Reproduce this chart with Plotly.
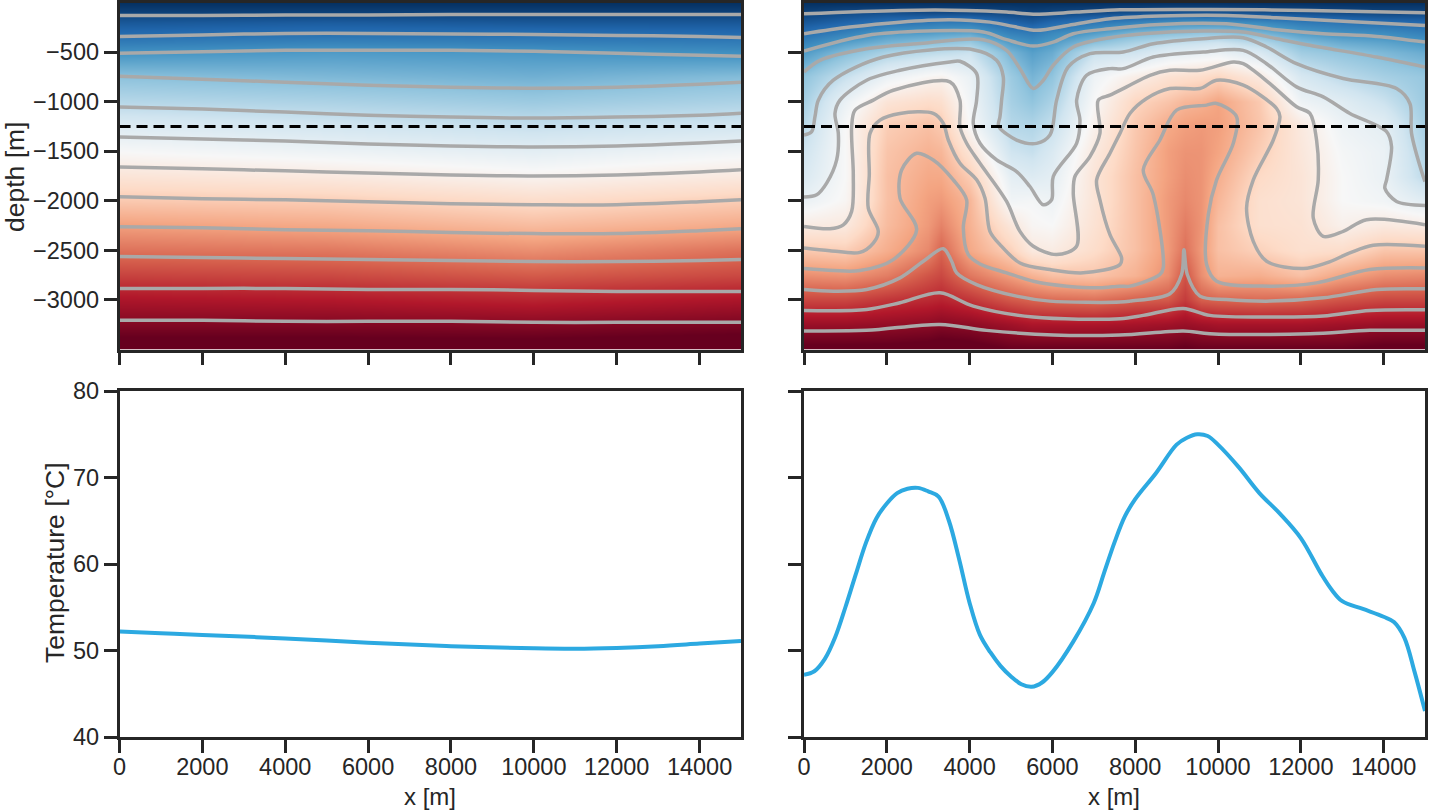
import numpy as np
import plotly.colors as pc
import plotly.graph_objects as go
from plotly.subplots import make_subplots

DEPTHS = [0, -100, -200, -300, -400, -500, -750, -1000, -1250, -1500, -1750, -2000, -2250, -2500, -2750, -3000, -3250, -3500]

# left panel: nearly flat layering, one column per x
left_grid_x = [0, 5000, 10000, 15000]
left_grid_t = [
    [0, 4, 9, 13, 18, 24, 35, 43, 52, 60, 68, 76, 85, 93, 101, 109, 116, 124],
    [0, 4, 10, 14, 20, 26, 33, 41, 49, 57, 66, 75, 83, 92, 100, 108, 116, 124],
    [0, 4, 9, 14, 19, 25, 31, 38, 46, 54, 62, 71, 79, 88, 97, 106, 115, 124],
    [0, 4, 9, 13, 18, 23, 34, 41, 49, 58, 66, 75, 83, 93, 100, 109, 117, 125],
]

# right panel: convection cells, one column per x
right_grid_x = [0, 1000, 2000, 3000, 3300, 4000, 5000, 5500, 6000, 7000, 8000, 8800, 9200, 9600, 10000, 11000, 12000, 13000, 14000, 15000]
right_grid_t = [
    [0, 4, 9, 14, 20, 26, 36, 40, 44, 48, 51, 56, 65, 76, 88, 100, 112, 122],
    [0, 6, 12, 19, 27, 34, 46, 56, 60, 60, 60, 61, 66, 75, 87, 100, 112, 122],
    [0, 7, 15, 25, 32, 41, 56, 68, 75, 77, 78, 78, 79, 82, 91, 103, 113, 122],
    [0, 6, 17, 26, 35, 44, 61, 71, 78, 81, 83, 85, 86, 89, 98, 105, 114, 123],
    [0, 6, 18, 27, 36, 45, 62, 70, 76, 80, 83, 86, 90, 95, 100, 106, 115, 124],
    [0, 6, 18, 28, 38, 47, 56, 58, 60, 68, 75, 80, 81, 83, 92, 103, 114, 123],
    [0, 5, 12, 19, 26, 32, 38, 40, 43, 48, 54, 58, 67, 74, 85, 97, 111, 120],
    [0, 4, 10, 17, 23, 27, 32, 36, 42, 46, 52, 59, 61, 66, 81, 95, 109, 120],
    [0, 5, 13, 21, 26, 30, 36, 41, 46, 51, 54, 57, 60, 65, 78, 94, 109, 120],
    [0, 6, 17, 26, 35, 46, 57, 60, 63, 66, 68, 68, 69, 71, 77, 93, 109, 120],
    [0, 7, 20, 32, 41, 48, 64, 73, 76, 77, 78, 78, 78, 78, 81, 96, 110, 120],
    [0, 8, 23, 34, 45, 53, 69, 77, 83, 85, 85, 86, 86, 86, 88, 97, 111, 120],
    [0, 8, 24, 35, 46, 54, 70, 80, 85, 87, 88, 89, 91, 93, 98, 102, 112, 121],
    [0, 8, 24, 36, 47, 55, 71, 81, 86, 87, 87, 87, 87, 86, 88, 96, 111, 120],
    [0, 8, 24, 36, 48, 56, 73, 84, 85, 84, 82, 80, 78, 78, 81, 95, 110, 120],
    [0, 7, 22, 32, 43, 51, 66, 76, 77, 75, 72, 70, 70, 74, 82, 94, 110, 120],
    [0, 7, 18, 26, 34, 39, 50, 57, 66, 67, 68, 68, 69, 70, 78, 95, 110, 120],
    [0, 6, 16, 23, 30, 36, 44, 53, 57, 59, 60, 60, 63, 71, 84, 98, 111, 120],
    [0, 5, 14, 22, 28, 33, 40, 47, 54, 56, 56, 58, 66, 77, 88, 100, 112, 122],
    [0, 5, 13, 19, 25, 30, 37, 38, 40, 42, 44, 53, 65, 77, 89, 100, 112, 122],
]

# isotherms, left panel
left_iso_x = [0, 2000, 4000, 6000, 8000, 10000, 12000, 14000, 15000]
left_iso_depths = [
    [-131, -131, -126, -126, -121, -121, -121, -121, -121],
    [-342, -327, -312, -312, -317, -322, -332, -342, -352],
    [-513, -497, -482, -482, -482, -492, -513, -533, -543],
    [-744, -774, -804, -834, -854, -864, -854, -824, -804],
    [-1055, -1075, -1105, -1136, -1156, -1166, -1156, -1136, -1116],
    [-1357, -1377, -1397, -1427, -1447, -1457, -1447, -1417, -1397],
    [-1658, -1678, -1698, -1719, -1739, -1749, -1739, -1709, -1688],
    [-1960, -1980, -1990, -2010, -2030, -2040, -2040, -2010, -1990],
    [-2261, -2271, -2291, -2301, -2321, -2331, -2331, -2301, -2281],
    [-2563, -2573, -2583, -2593, -2603, -2613, -2613, -2603, -2593],
    [-2884, -2884, -2884, -2894, -2894, -2904, -2914, -2914, -2914],
    [-3206, -3206, -3216, -3216, -3216, -3226, -3226, -3226, -3226],
]

# isotherms, right panel, traced as (x, depth)
iso_05 = [(0, -114), (2318, -80), (3928, -80), (4894, -97), (5538, -118), (6584, -97), (7631, -74), (9805, -70), (12220, -80), (15000, -104)]
iso_15 = [(0, -315), (1110, -248), (2318, -198), (3525, -174), (4491, -198), (5055, -241), (5618, -281), (6504, -221), (7390, -164),
          (8597, -137), (10207, -131), (11415, -154), (13025, -188), (15000, -231)]
iso_25 = [(0, -489), (1513, -332), (2962, -288), (4330, -298), (4894, -375), (5538, -439), (6021, -399), (6504, -315), (7390, -265),
          (8597, -221), (10207, -215), (11415, -275), (12542, -315), (13830, -342), (15000, -399)]
iso_35 = [(0, -700), (386, -583), (1513, -466), (2721, -416), (4330, -375), (4894, -483), (5216, -667), (5538, -868), (5780, -784),
          (6021, -633), (6504, -449), (7390, -355), (8195, -315), (9644, -288), (10610, -298), (11415, -365), (12220, -432),
          (13830, -550), (15000, -650)]
iso_45 = [(0, -1337), (185, -1303), (265, -1152), (346, -985), (708, -784), (1916, -550), (4089, -476), (4652, -583), (4814, -750),
          (4773, -985), (4733, -1152), (4693, -1236), (4733, -1270), (5136, -1387), (5619, -1421), (5941, -1337), (6102, -985),
          (6383, -650), (6907, -516), (7712, -499), (8437, -416), (9644, -365), (10610, -355), (11174, -449), (11898, -617),
          (13025, -767), (14313, -868), (14635, -1019), (14675, -1320), (14957, -1756), (15000, -1806)]
iso_55 = [(0, -1963), (306, -1940), (547, -1822), (789, -1588), (829, -1320), (748, -1119), (869, -985), (1513, -784), (2318, -684),
          (3525, -600), (3767, -593), (4169, -717), (4169, -985), (4089, -1220), (4250, -1420), (4653, -1588), (5136, -1705),
          (5457, -1856), (5780, -2040), (5981, -1990), (6021, -1755), (6585, -1420), (6665, -1186), (6585, -985), (6826, -734),
          (7390, -667), (7712, -667), (8437, -550), (9644, -499), (10610, -483), (11174, -617), (11898, -851), (12542, -952),
          (13186, -1119), (14072, -1303), (14192, -1454), (14072, -1789), (14031, -1873), (14313, -2007), (15000, -2047)]
iso_65 = [(0, -2258), (628, -2282), (950, -2242), (1151, -2107), (1191, -1739), (1151, -1253), (1231, -1086), (1674, -985), (2157, -885),
          (3525, -800), (3767, -985), (3767, -1253), (3928, -1420), (4250, -1622), (4894, -2007), (5216, -2309), (5538, -2459),
          (6101, -2543), (6584, -2459), (6504, -1923), (6544, -1755), (6906, -1555), (7148, -1320), (7108, -985), (7390, -935),
          (7793, -851), (8356, -734), (8839, -684), (9564, -684), (10369, -600), (10610, -617), (11254, -818), (11898, -1052),
          (12220, -1119), (12381, -1387), (12421, -1789), (12301, -2174), (12542, -2359), (13025, -2308), (13589, -2191), (15000, -2242)]
iso_75 = [(0, -2476), (628, -2503), (1352, -2520), (1674, -2426), (1795, -2309), (1553, -2074), (1577, -1739), (1594, -1320), (1835, -1186),
          (2318, -1119), (3123, -1119), (3365, -1220), (3485, -1387), (3767, -1622), (4170, -1789), (4371, -1973), (4491, -2308),
          (4733, -2442), (5216, -2627), (5940, -2694), (6746, -2727), (7631, -2644), (7672, -2577), (7390, -2342), (7148, -1990),
          (7068, -1789), (7390, -1521), (7632, -1320), (7873, -1119), (8276, -968), (8839, -868), (9564, -868), (9966, -784),
          (10610, -834), (11415, -1069), (11496, -1152), (11335, -1387), (10852, -1789), (10690, -2074), (10852, -2409), (11174, -2610),
          (12059, -2684), (12622, -2627), (13186, -2526), (13750, -2449), (15000, -2459)]
iso_85 = [(0, -2684), (708, -2704), (1352, -2704), (2157, -2593), (2721, -2292), (2318, -1973), (2358, -1689), (2721, -1521), (3123, -1588),
          (3606, -1789), (3928, -1990), (3848, -2275), (3968, -2543), (4250, -2637), (4894, -2727), (5538, -2811), (6343, -2861),
          (7148, -2878), (7631, -2861), (7873, -2861), (8597, -2744), (8678, -2677), (8437, -1940), (8195, -1689), (8597, -1387),
          (8999, -1085), (9725, -1035), (9966, -1018), (10449, -1152), (10369, -1420), (9966, -1789), (9765, -2141), (9725, -2643),
          (9966, -2811), (11254, -2861), (12381, -2828), (13669, -2694), (15000, -2677)]
iso_95 = [(0, -2895), (708, -2912), (1513, -2895), (2318, -2778), (2882, -2610), (3365, -2483), (3566, -2610), (3687, -2727), (4170, -2845),
          (5136, -2962), (5940, -3012), (7631, -3022), (7873, -3012), (8839, -2938), (9121, -2744), (9177, -2493), (9258, -2744),
          (9564, -2962), (10207, -2995), (11254, -3012), (12542, -2979), (13830, -2895), (15000, -2888)]
iso_105 = [(0, -3106), (1513, -3096), (2318, -3029), (3284, -2928), (4089, -3062), (5538, -3173), (7631, -3190), (8195, -3156), (9161, -3086),
           (9805, -3156), (11415, -3173), (12542, -3163), (13669, -3106), (15000, -3099)]
iso_115 = [(0, -3313), (1513, -3307), (3284, -3247), (4411, -3307), (6021, -3354), (7631, -3354), (9161, -3313), (9805, -3340), (12220, -3340),
           (13669, -3307), (15000, -3307)]
right_isotherms = [iso_05, iso_15, iso_25, iso_35, iso_45, iso_55, iso_65, iso_75, iso_85, iso_95, iso_105, iso_115]

# temperature along the dashed line
left_curve_x = [0, 1000, 2000, 4000, 6000, 8000, 10000, 11000, 12000, 13000, 14000, 15000]
left_curve_t = [52.2, 52.0, 51.8, 51.4, 50.9, 50.5, 50.25, 50.2, 50.3, 50.5, 50.8, 51.1]
right_curve_x = [0, 250, 500, 750, 1000, 1250, 1500, 1750, 2000, 2250, 2500, 2750, 3000, 3250, 3500, 3750, 4000, 4250, 4500, 4750, 5000, 5250,
                 5500, 5750, 6000, 6500, 7000, 7250, 7500, 7750, 8000, 8500, 9000, 9250, 9500, 9750, 10000, 10500, 11000, 11500, 12000,
                 12500, 12750, 13000, 13500, 14000, 14250, 14500, 14750, 15000]
right_curve_t = [47.2, 47.6, 49.0, 51.5, 55.0, 58.8, 62.5, 65.3, 67.0, 68.2, 68.7, 68.8, 68.4, 67.8, 65.0, 60.5, 55.5, 51.8, 49.8, 48.2, 47.0, 46.1,
                 45.8, 46.3, 47.5, 51.0, 55.5, 59.0, 62.5, 65.5, 67.5, 70.5, 73.8, 74.6, 75.0, 74.8, 73.8, 71.2, 68.2, 65.8, 63.0,
                 58.8, 57.0, 55.7, 54.8, 53.9, 53.3, 51.5, 47.5, 43.0]

X_TICKS = [0, 2000, 4000, 6000, 8000, 10000, 12000, 14000]
DEPTH_TICKS = [-500, -1000, -1500, -2000, -2500, -3000]
TEMP_TICKS = [40, 50, 60, 70, 80]

INK = '#262626'
FONT = 'Liberation Sans'
W, H = 1429, 811

fig = make_subplots(rows=2, cols=2)


def add_field(col, grid_x, columns):
    z = np.array(columns).T
    fig.add_trace(go.Heatmap(x=grid_x, y=DEPTHS, z=z, zmin=0, zmax=120, zsmooth='best',
                             colorscale=pc.diverging.RdBu_r, showscale=False), row=1, col=col)


def add_iso(col, xs, ys):
    fig.add_trace(go.Scatter(x=xs, y=ys, mode='lines',
                             line=dict(color='#a9a9a9', width=3.5, shape='spline', smoothing=0.9)), row=1, col=col)


add_field(1, left_grid_x, left_grid_t)
add_field(2, right_grid_x, right_grid_t)

for depths in left_iso_depths:
    add_iso(1, left_iso_x, depths)
for iso in right_isotherms:
    add_iso(2, [p[0] for p in iso], [p[1] for p in iso])

for col in (1, 2):
    fig.add_trace(go.Scatter(x=[0, 15000], y=[-1250, -1250], mode='lines',
                             line=dict(color='black', width=3, dash='11px,6px')), row=1, col=col)

fig.add_trace(go.Scatter(x=left_curve_x, y=left_curve_t, mode='lines',
                         line=dict(color='#2ca9e1', width=4, shape='spline')), row=2, col=1)
fig.add_trace(go.Scatter(x=right_curve_x, y=right_curve_t, mode='lines',
                         line=dict(color='#2ca9e1', width=4, shape='spline')), row=2, col=2)

axis_style = dict(showline=True, mirror=True, linewidth=2.5, linecolor=INK, showgrid=False, zeroline=False,
                  ticks='outside', ticklen=13, tickwidth=2.5, tickcolor=INK,
                  tickfont=dict(family=FONT, size=23.5, color=INK))

x_domains = [[119.5 / W, 741 / W], [804 / W, 1425 / W]]
top_domain = [1 - 349.5 / H, 1 - 2.5 / H]
bottom_domain = [1 - 737 / H, 1 - 391 / H]

for col in (1, 2):
    fig.update_xaxes(axis_style, range=[0, 15000], tickvals=X_TICKS, tickformat='d', domain=x_domains[col - 1], showticklabels=False, row=1, col=col)
    fig.update_xaxes(axis_style, range=[0, 15000], tickvals=X_TICKS, tickformat='d', domain=x_domains[col - 1], ticklabelstandoff=-6, row=2, col=col)
    fig.update_yaxes(axis_style, range=[-3500, 0], tickvals=DEPTH_TICKS, domain=top_domain, showticklabels=col == 1, row=1, col=col)
    fig.update_yaxes(axis_style, range=[40, 80], tickvals=TEMP_TICKS, domain=bottom_domain, showticklabels=col == 1, row=2, col=col)

labels = [
    ('depth [m]', 15 / W, 1 - 177 / H, -90, 26.5),
    ('Temperature [°C]', 55 / W, 1 - 563 / H, -90, 26.5),
    ('x [m]', 430 / W, 1 - 796 / H, 0, 24),
    ('x [m]', 1114 / W, 1 - 796 / H, 0, 24),
]
for text, x, y, angle, size in labels:
    fig.add_annotation(text=text, x=x, y=y, xref='paper', yref='paper', showarrow=False,
                       textangle=angle, font=dict(family=FONT, size=size, color=INK), xanchor='center', yanchor='middle')

fig.update_layout(width=W, height=H, margin=dict(l=0, r=0, t=0, b=0, autoexpand=False), showlegend=False,
                  plot_bgcolor='white', paper_bgcolor='white')

# the default page keeps an 8px body margin, the figure has to sit at the corner
fig.write_html("out.html", config={'displayModeBar': False},
               post_script="document.body.style.margin='0';document.documentElement.style.overflow='hidden';")
